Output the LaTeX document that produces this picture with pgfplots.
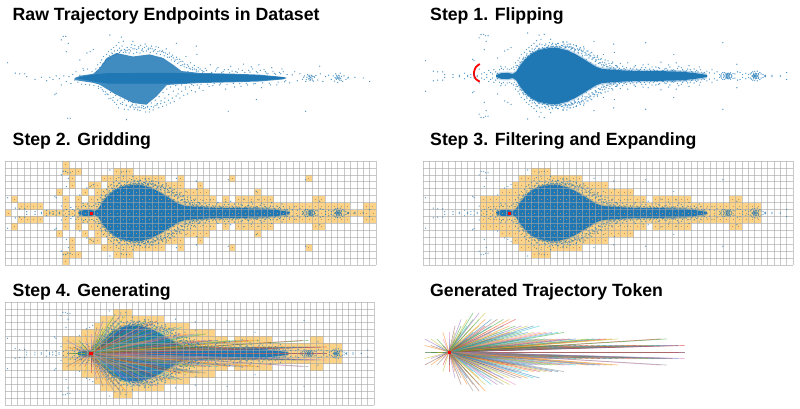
\documentclass[border=0pt]{standalone}
\usepackage{fontspec}
\setmainfont{Liberation Sans}
\usepackage{pgfplots}
\usepackage{pgfplotstable}
\pgfplotsset{compat=1.18}

\definecolor{tabblue}{RGB}{31,119,180}
\definecolor{cellfill}{RGB}{253,212,135}
\definecolor{celldot}{RGB}{196,146,96}
\definecolor{gridgray}{RGB}{165,165,165}

% x is the grid column (ego cell is column 13, centre 13.5), y the grid row
\pgfplotsset{
  colormap={tab}{rgb255=(31,119,180) rgb255=(255,127,14) rgb255=(44,160,44)
    rgb255=(214,39,40) rgb255=(148,103,189) rgb255=(140,86,75)
    rgb255=(227,119,194) rgb255=(127,127,127) rgb255=(188,189,34) rgb255=(23,190,207)},
  panel/.style={scale only axis, anchor=south west, width=371pt, height=104pt,
    xmin=0, xmax=58, ymin=-7.5, ymax=7.5, clip=false,
    unbounded coords=jump, colormap name=tab, colormap access=piecewise constant,
    point meta min=0, point meta max=10},
  bare/.style={panel, hide axis},
  griddy/.style={panel, axis on top, xtick={0,...,58}, ytick={-7.5,-6.5,...,7.5},
    xticklabels={}, yticklabels={}, major tick length=0pt, axis line style={draw=none},
    grid=major, major grid style={draw=gridgray, line width=0.6pt, opacity=0.6}},
}

% signed endpoints
\pgfplotstableread[row sep=\\]{x y\\
0.4 2.2\\ 1.6 0.7\\ 2.3 0.6\\ 3.1 0.6\\ 3.4 0.2\\ 4.7 -0.2\\ 5.7 0.1\\ 6.5 -0.4\\ 7.8 -2.4\\ 9.1 6\\ 9.5 6\\ 8.8 5.5\\
9.8 -5.8\\ 10.2 -5.8\\ 19 -6\\ 16.4 6.2\\ 18.2 5.9\\ 20 5.3\\ 26.8 5\\ 29.9 4.6\\ 34.9 -4.8\\ 47 -4.8\\ 39.3 -3.1\\ 49.2 1.7\\
57 -0.5\\ 56 0\\ 54.7 0.1\\ 53.6 0\\ 9.6 3.8\\ 9.9 5\\ 8.8 -1\\ 8 -2.2\\ 11.7 2.6\\ 13.3 3.8\\ 13.8 4.1\\ 12.2 1.4\\ 12.8 3.6\\
14.2 1.3\\ 14.5 1.9\\ 14.9 2.2\\ 15.1 2.6\\ 15.4 3.1\\ 15.7 2.5\\ 15.9 3.4\\ 16.2 3.8\\ 16.3 3.2\\ 16.6 4.1\\ 16.8 3.5\\ 17 4.4\\
17.1 3.9\\ 17.4 4.7\\ 17.6 4\\ 17.8 5.1\\ 17.9 4.3\\ 18.1 3.9\\ 18.3 4.6\\ 18.5 5.3\\ 18.7 4.1\\ 18.9 3.7\\ 19.1 4.4\\ 19.4 3.6\\
19.6 3.9\\ 19.8 4.8\\ 20.1 3.5\\ 20.3 4.2\\ 20.6 3.7\\ 20.9 4.5\\ 21.1 3.6\\ 21.4 4\\ 21.6 3.8\\ 21.9 4.9\\ 22.1 3.9\\ 22.4 4.3\\
22.7 3.7\\ 22.9 4.6\\ 23.2 3.8\\ 23.5 4.1\\ 23.7 3.5\\ 24 4.4\\ 24.3 3.4\\ 24.6 3.9\\ 24.9 3.2\\ 25.2 4.2\\ 25.4 3\\ 25.7 3.6\\
26 2.6\\ 26.2 3.3\\ 26.5 2.4\\ 26.8 3\\ 27 2.1\\ 27.3 2.7\\ 27.5 1.8\\ 27.8 2.4\\ 28 1.6\\ 28.3 3.1\\ 28.5 1.9\\ 28.8 1.4\\
29 2.2\\ 29.3 1.2\\ 29.6 1.8\\ 30 3.4\\ 30.2 1.5\\
14.6 -1.2\\ 15.2 -1.7\\ 15.7 -2\\ 16.1 -2.4\\ 16.5 -2.1\\ 16.9 -2.8\\ 17.3 -2.5\\ 17.6 -3.2\\ 18 -2.9\\ 18.4 -3.5\\ 18.7 -3.2\\
19 -3.9\\ 19.3 -3.4\\ 19.6 -4.2\\ 19.9 -3.8\\ 20.2 -4.5\\ 20.5 -3.9\\ 20.8 -4.2\\ 21.1 -4.7\\ 21.4 -4\\ 21.7 -4.4\\ 22 -4.9\\
22.3 -4.1\\ 22.6 -4.5\\ 22.9 -3.6\\ 23.2 -4.2\\ 23.5 -3.2\\ 23.8 -3.7\\ 24.1 -2.7\\ 24.4 -3.3\\ 24.7 -2.1\\ 25 -2.9\\ 25.3 -1.6\\
25.6 -2.4\\ 25.9 -1.3\\ 26.3 -1.9\\ 26.7 -1.1\\ 27.1 -1.6\\ 27.6 -1\\ 28.2 -1.3\\
28.6 0.9\\ 29.2 -0.95\\ 29.9 1\\ 30.4 -1.3\\ 30.9 0.85\\ 31.3 1.4\\ 31.7 -0.9\\ 32.1 1.9\\ 32.5 -1.1\\ 32.9 1\\ 33.3 1.5\\ 33.7 -0.85\\
34.1 0.95\\ 34.5 -1.6\\ 34.9 1.2\\ 35.3 1.7\\ 35.7 -0.8\\ 36.1 0.9\\ 36.5 1.3\\ 36.9 -1.2\\ 37.3 2\\ 37.7 -0.75\\ 38.1 1.1\\ 38.5 1.6\\
38.9 -0.85\\ 39.3 0.9\\ 39.7 1.9\\ 40.1 -1.4\\ 40.5 1.2\\ 40.9 0.7\\ 41.3 -0.75\\ 41.7 1.5\\ 42.1 0.65\\ 42.5 -1\\ 42.9 0.8\\ 43.3 1.3\\
43.7 -0.55\\ 44.1 0.5\\ 44.5 -0.7\\ 44.9 0.45\\ 45.3 0.9\\ 45.7 -0.4\\ 46.1 0.6\\
46.5 -0.2\\ 46.8 0.3\\ 47 -0.5\\ 47.2 0.1\\ 47.3 0.5\\ 47.5 -0.15\\ 47.6 0.2\\ 47.7 -0.35\\ 47.8 0.05\\ 47.9 0.4\\ 48 -0.1\\ 48.1 0.25\\
48.2 -0.45\\ 48.4 0.1\\ 48.6 0.35\\ 48.9 -0.3\\ 49.3 0.6\\ 49.7 -0.5\\ 50.1 0.2\\ 50.6 0.4\\ 51 -0.2\\
51.3 0.3\\ 51.5 -0.45\\ 51.6 0.05\\ 51.7 0.6\\ 51.8 -0.2\\ 51.9 0.2\\ 52 -0.65\\ 52.05 -0.05\\ 52.1 0.4\\ 52.2 0.1\\ 52.3 -0.3\\
52.4 0.7\\ 52.5 -0.1\\ 52.6 0.25\\ 52.8 -0.5\\ 53 0.3\\ 53.3 -0.2\\ 53.7 0.1\\
9.2 0.3\\ 9.6 -0.5\\ 10 0.2\\ 10.3 -0.8\\ 10.6 0.5\\ 10.9 -0.3\\ 11.1 0.9\\ 11.4 -0.6\\ 11.7 0.4\\ 12 -0.9\\ 12.3 1.1\\ 12.6 -0.95\\
12.9 1.3\\ 13.2 -1\\ 13.6 0.9\\ 13.9 -1.1\\ 7 0.1\\ 7.5 -0.2\\ 8 0.3\\ 8.5 -0.1\\
14.3 0.9\\ 14.6 -1.5\\ 14.8 1.5\\ 15 -1.4\\ 15.2 2\\ 15.35 -1.9\\ 15.5 2.1\\ 15.65 -2.4\\ 15.8 2.7\\ 15.95 -2.3\\ 16.1 2.7\\ 16.25 -3\\
16.4 2.8\\ 16.55 -2.9\\ 16.7 3.6\\ 16.85 -3.2\\ 17 3.2\\ 17.15 -3.5\\ 17.3 3.4\\ 17.45 -3.8\\ 17.6 3.5\\ 17.75 -4.3\\ 17.9 3.7\\ 18.05 -3.7\\
18.2 4\\ 18.35 -3.8\\ 18.5 3.7\\ 18.65 -4.5\\ 18.8 3.9\\ 18.95 -4\\ 19.1 4\\ 19.25 -4.6\\ 19.4 4.1\\ 19.55 -4.1\\ 19.7 4.4\\ 19.85 -4\\
20 4.2\\ 20.15 -4.2\\ 20.3 4.7\\ 20.45 -4.3\\ 20.6 4.1\\ 20.75 -4.6\\ 20.9 4.3\\ 21.05 -4.2\\ 21.2 4.7\\ 21.35 -4.3\\ 21.5 4.2\\ 21.65 -4.1\\
21.8 4.4\\ 21.95 -4.3\\ 22.1 4.6\\ 22.25 -4.2\\ 22.4 4.1\\ 22.55 -4.9\\ 22.7 4.3\\ 22.85 -4.1\\ 23 4.2\\ 23.15 -4.6\\ 23.3 4\\ 23.45 -4\\
23.6 4.5\\ 23.75 -3.9\\ 23.9 3.8\\ 24.05 -4.3\\ 24.2 3.9\\ 24.35 -3.7\\ 24.5 3.8\\ 24.65 -4.1\\ 24.8 3.7\\ 24.95 -3.5\\ 25.1 3.6\\ 25.25 -3.9\\
25.4 3.4\\ 25.55 -3.2\\ 25.7 3\\ 25.85 -3.6\\ 26 3.1\\ 26.15 -2.9\\ 26.3 2.9\\ 26.45 -3.4\\ 26.6 2.6\\ 26.75 -2.6\\ 26.9 2.7\\ 27.05 -2.3\\
27.2 2.3\\ 27.35 -2.9\\ 27.5 2.4\\ 27.65 -1.9\\ 27.8 1.9\\ 27.95 -2.5\\ 28.1 2\\ 28.25 -1.6\\ 28.4 1.5\\ 28.55 -2.3\\ 28.7 1.7\\ 28.85 -1.3\\
29 1.3\\ 29.15 -1.8\\ 29.3 1.5\\ 29.45 -1.1\\ 29.6 1.3\\ 29.75 -2\\ 29.9 1.2\\ 30.05 -1\\ 30.2 1\\ 30.35 -1.5\\ 30.5 1.3\\ 30.65 -0.9\\
30.8 1.1\\ 30.95 -1.8\\ 31.1 0.9\\ 31.5 1.1\\ 31.9 -1.2\\ 32.3 0.8\\ 32.7 -0.8\\ 33.1 1.3\\ 33.5 -1\\ 33.9 0.8\\ 34.3 1.2\\ 34.7 -0.9\\
35.1 0.75\\ 35.5 1\\ 35.9 -1.3\\ 36.3 0.8\\ 36.7 -0.8\\ 37.1 1.1\\ 37.5 0.8\\ 37.9 -1\\ 38.3 0.85\\ 38.7 1.3\\ 39.1 -0.8\\ 39.5 0.75\\
39.9 1.1\\ 40.3 -0.7\\ 40.7 0.9\\ 41.1 0.6\\ 41.5 -1\\ 41.9 0.9\\ 42.3 0.55\\ 42.7 -0.6\\ 43.1 0.6\\ 43.5 0.9\\ 43.9 -0.4\\
46.7 0.1\\ 47.1 -0.25\\ 47.4 0.3\\ 47.55 -0.05\\ 47.65 0.4\\ 47.75 -0.2\\ 47.85 0.15\\ 48.05 -0.3\\ 48.3 0.2\\
52.15 -0.15\\ 51.95 0.05\\ 52.25 0.3\\ 52.35 0\\ 51.75 -0.05\\ 51.85 0.4\\ 52.55 -0.35\\
}\endpoints

% solid part of the raw cloud
\pgfplotstableread[row sep=\\]{x y\\
10.9 0\\ 11.9 0.35\\ 13.8 0.6\\ 14.8 1.44\\ 15.9 2.88\\ 17.45 3.6\\ 20 3.1\\ 22.6 3.4\\ 24.7 2.9\\ 26.3 1.9\\ 27.6 1\\
30.5 0.72\\ 35.7 0.62\\ 39.8 0.48\\ 43.5 0.14\\ 44 0\\ 43.5 -0.2\\ 39.8 -0.5\\ 35.7 -0.62\\ 30.5 -0.72\\ 25.3 -1\\ 23.7 -2.64\\
22.1 -3.85\\ 20 -3.6\\ 18.5 -2.9\\ 17 -2.2\\ 14.8 -0.96\\ 13.8 -0.7\\ 10.9 -0.3\\
}\rawcloud
\pgfplotstableread[row sep=\\]{x y\\
11 0\\ 13.8 0.5\\ 16 0.7\\ 26 0.75\\ 30.5 0.62\\ 35.7 0.52\\ 39.8 0.38\\ 43.5 0.1\\ 44 0\\ 43.5 -0.1\\ 39.8 -0.38\\ 35.7 -0.52\\
30.5 -0.62\\ 26 -0.8\\ 16 -0.8\\ 13.8 -0.5\\ 11 0\\
}\rawcore

% upper half of the flipped cloud
\pgfplotstableread[row sep=\\]{x y\\
11.46 -0.1\\ 11.46 0.14\\ 12.24 0.4\\ 13.28 0.45\\ 14.06 0.3\\ 14.6 0.6\\ 15.2 1.5\\ 16 2.4\\ 17 3.2\\ 18.2 3.75\\ 19.6 4\\ 21 4.05\\
22.4 3.75\\ 23.8 3.2\\ 25.1 2.5\\ 26.2 1.85\\ 27.2 1.3\\ 28 1.05\\ 29 0.95\\ 30.5 0.85\\ 32.55 0.75\\ 35.68 0.7\\ 38.8 0.68\\ 40.89 0.6\\
42.97 0.38\\ 44.53 0.15\\ 44.53 -0.1\\
}\flipcloud

% grid cells kept, row by row, upper half; nan breaks the run
\pgfplotstableread[row sep=\\]{x y\\
0 0\\ 1 0\\ nan 0\\ 6 0\\ 58 0\\ nan 0\\
2 1\\ 6 1\\ nan 1\\ 9 1\\ 10 1\\ nan 1\\ 11 1\\ 54 1\\ nan 1\\ 56 1\\ 58 1\\ nan 1\\
1 2\\ 2 2\\ nan 2\\ 9 2\\ 10 2\\ nan 2\\ 11 2\\ 12 2\\ nan 2\\ 13 2\\ 33 2\\ nan 2\\ 34 2\\ 35 2\\ nan 2\\ 36 2\\ 42 2\\ nan 2\\ 48 2\\ 50 2\\ nan 2\\
8 3\\ 9 3\\ nan 3\\ 12 3\\ 13 3\\ nan 3\\ 14 3\\ 32 3\\ nan 3\\ 39 3\\ 40 3\\ nan 3\\
10 4\\ 11 4\\ nan 4\\ 13 4\\ 15 4\\ nan 4\\ 16 4\\ 28 4\\ nan 4\\ 30 4\\ 31 4\\ nan 4\\
10 5\\ 11 5\\ nan 5\\ 15 5\\ 25 5\\ nan 5\\ 27 5\\ 28 5\\ nan 5\\ 35 5\\ 36 5\\ nan 5\\ 47 5\\ 48 5\\ nan 5\\
9 6\\ 12 6\\ nan 6\\ 17 6\\ 20 6\\ nan 6\\
9 7\\ 10 7\\
}\griddedcells

\pgfplotstableread[row sep=\\]{x y\\
9 0\\ 53 0\\ nan 0\\
9 1\\ 53 1\\ nan 1\\
9 2\\ 35 2\\ nan 2\\ 36 2\\ 42 2\\ nan 2\\ 48 2\\ 50 2\\ nan 2\\
12 3\\ 33 3\\ nan 3\\
14 4\\ 29 4\\ nan 4\\
15 5\\ 25 5\\ nan 5\\
17 6\\ 20 6\\
}\filteredcells

% generated token endpoints, upper half: column centre, row, colour
\pgfplotstableread[row sep=\\]{ex ey c\\
9.5 0 2\\ 10.5 0 7\\ 11.5 0 1\\ 12.5 0 9\\ 14.5 0 4\\ 15.5 0 0\\ 16.5 0 6\\ 17.5 0 3\\ 18.5 0 8\\ 19.5 0 5\\ 20.5 0 1\\ 21.5 0 7\\
22.5 0 2\\ 23.5 0 9\\ 24.5 0 0\\ 25.5 0 4\\ 26.5 0 6\\ 27.5 0 3\\ 28.5 0 8\\ 29.5 0 5\\ 30.5 0 2\\ 31.5 0 0\\ 32.5 0 7\\ 33.5 0 1\\
34.5 0 3\\ 35.5 0 9\\ 36.5 0 4\\ 37.5 0 6\\ 38.5 0 2\\ 39.5 0 8\\ 40.5 0 5\\ 41.5 0 0\\ 42.5 0 3\\ 43.5 0 7\\ 44.5 0 1\\ 45.5 0 9\\
46.5 0 2\\ 47.5 0 4\\ 48.5 0 6\\ 49.5 0 0\\ 50.5 0 8\\ 51.5 0 3\\ 52.5 0 4\\
9.5 1 1\\ 10.5 1 5\\ 11.5 1 9\\ 12.5 1 3\\ 13.5 1 7\\ 14.5 1 2\\ 15.5 1 6\\ 16.5 1 0\\ 17.5 1 8\\ 18.5 1 4\\ 19.5 1 1\\ 20.5 1 3\\
21.5 1 9\\ 22.5 1 5\\ 23.5 1 2\\ 24.5 1 7\\ 25.5 1 0\\ 26.5 1 6\\ 27.5 1 3\\ 28.5 1 1\\ 29.5 1 8\\ 30.5 1 4\\ 31.5 1 9\\ 32.5 1 2\\
33.5 1 5\\ 34.5 1 0\\ 35.5 1 7\\ 36.5 1 3\\ 37.5 1 1\\ 38.5 1 6\\ 39.5 1 2\\ 40.5 1 9\\ 41.5 1 4\\ 42.5 1 0\\ 43.5 1 8\\ 44.5 1 3\\
45.5 1 5\\ 46.5 1 1\\ 47.5 1 7\\ 48.5 1 2\\ 49.5 1 9\\ 50.5 1 6\\ 51.5 1 0\\ 52.5 1 3\\
9.5 2 4\\ 10.5 2 8\\ 11.5 2 2\\ 12.5 2 6\\ 13.5 2 9\\ 14.5 2 1\\ 15.5 2 3\\ 16.5 2 7\\ 17.5 2 0\\ 18.5 2 5\\ 19.5 2 9\\ 20.5 2 2\\
21.5 2 4\\ 22.5 2 1\\ 23.5 2 8\\ 24.5 2 6\\ 25.5 2 3\\ 26.5 2 0\\ 27.5 2 9\\ 28.5 2 5\\ 29.5 2 2\\ 30.5 2 7\\ 31.5 2 1\\ 32.5 2 4\\
33.5 2 3\\ 34.5 2 0\\ 36.5 2 8\\ 37.5 2 2\\ 38.5 2 9\\ 39.5 2 3\\ 40.5 2 1\\ 41.5 2 8\\ 48.5 2 3\\ 49.5 2 2\\
12.5 3 1\\ 13.5 3 6\\ 14.5 3 8\\ 15.5 3 3\\ 16.5 3 9\\ 17.5 3 0\\ 18.5 3 2\\ 19.5 3 7\\ 20.5 3 4\\ 21.5 3 1\\ 22.5 3 9\\ 23.5 3 3\\
24.5 3 5\\ 25.5 3 2\\ 26.5 3 0\\ 27.5 3 8\\ 28.5 3 6\\ 29.5 3 1\\ 30.5 3 4\\ 31.5 3 9\\ 32.5 3 2\\
14.5 4 5\\ 15.5 4 2\\ 16.5 4 9\\ 17.5 4 1\\ 18.5 4 8\\ 19.5 4 3\\ 20.5 4 0\\ 21.5 4 6\\ 22.5 4 9\\ 23.5 4 1\\ 24.5 4 2\\ 25.5 4 4\\
26.5 4 8\\ 27.5 4 0\\ 28.5 4 9\\
15.5 5 4\\ 16.5 5 8\\ 17.5 5 2\\ 18.5 5 9\\ 19.5 5 1\\ 20.5 5 0\\ 21.5 5 5\\ 22.5 5 2\\ 23.5 5 1\\ 24.5 5 3\\
17.5 6 2\\ 18.5 6 4\\ 19.5 6 8\\
}\token

\newcommand{\keptcells}[1]{
  \addplot[cellfill, line width=6.9pt, forget plot] table {#1};
  \addplot[cellfill, line width=6.9pt, forget plot] table[y expr=-\thisrow{y}] {#1};
}
\newcommand{\celldots}[1]{
  \addplot[celldot, line width=0.9pt, dash pattern=on 0.9pt off 5.5pt, dash phase=3.65pt, forget plot] table {#1};
  \addplot[celldot, line width=0.9pt, dash pattern=on 0.9pt off 5.5pt, dash phase=3.65pt, forget plot] table[y expr=-\thisrow{y}] {#1};
}
\newcommand{\flippedcloud}[1]{
  \addplot[tabblue, only marks, mark=*, mark size=0.42pt, mark options={draw=none, fill=tabblue}, opacity=#1, forget plot] table {\endpoints};
  \addplot[tabblue, only marks, mark=*, mark size=0.42pt, mark options={draw=none, fill=tabblue}, opacity=#1, forget plot] table[y expr=-\thisrow{y}] {\endpoints};
  \addplot[draw=none, fill=tabblue, fill opacity=0.3, forget plot] table[y expr=\thisrow{y}+0.2] {\flipcloud} -- cycle;
  \addplot[draw=none, fill=tabblue, fill opacity=0.3, forget plot] table[y expr=-\thisrow{y}-0.2] {\flipcloud} -- cycle;
  \addplot[draw=none, fill=tabblue, forget plot] table {\flipcloud} -- cycle;
  \addplot[draw=none, fill=tabblue, forget plot] table[y expr=-\thisrow{y}] {\flipcloud} -- cycle;
}
\newcommand{\tokenfan}{
  \addplot[-, forget plot, point meta=\thisrow{c},
    quiver={u=0.95*(\thisrow{ex}-13.5), v=0.95*\thisrow{ey}, colored=mapped color,
      every arrow/.append style={line width=0.7pt, opacity=0.5}}]
    table[x expr=13.5, y expr=0] {\token};
  \addplot[-, forget plot, point meta=9-\thisrow{c},
    quiver={u=0.95*(\thisrow{ex}-13.5), v=-0.95*\thisrow{ey}, colored=mapped color,
      every arrow/.append style={line width=0.7pt, opacity=0.5}}]
    table[x expr=13.5, y expr=0] {\token};
}
\newcommand{\egomark}{
  \addplot[only marks, mark=square*, mark size=1.2pt, red, forget plot] coordinates {(13.5,0)};
}
\newcommand{\paneltitle}[3]{
  \node[anchor=base west, inner sep=0pt, font=\fontsize{17.7}{18}\selectfont\bfseries] at (#1pt,#2pt) {#3};
}

\begin{document}
\begin{tikzpicture}[x=1pt,y=1pt]
\useasboundingbox (0,0) rectangle (800,409);

\paneltitle{12.5}{388.5}{Raw Trajectory Endpoints in Dataset}
\paneltitle{430}{388.5}{Step 1. Flipping}
\paneltitle{12.5}{263}{Step 2. Gridding}
\paneltitle{430}{263}{Step 3. Filtering and Expanding}
\paneltitle{12.5}{112.5}{Step 4. Generating}
\paneltitle{430}{112.5}{Generated Trajectory Token}

% raw
\begin{axis}[bare, at={(5pt,279pt)}]
  \addplot[tabblue, only marks, mark=*, mark size=0.42pt, mark options={draw=none, fill=tabblue}, opacity=0.6] table {\endpoints};
  \addplot[draw=none, fill=tabblue, fill opacity=0.85] table {\rawcloud} -- cycle;
  \addplot[draw=none, fill=tabblue] table {\rawcore} -- cycle;
\end{axis}

% step 1
\begin{axis}[bare, at={(423pt,281pt)}, width=370pt]
  \flippedcloud{0.6}
  \addplot[red, line width=1.8pt, smooth] coordinates {(8.9,1.73) (8.3,1.3) (8,0.6) (8,0.1) (8.3,-0.45) (8.9,-0.82)};
\end{axis}

% step 2
\begin{axis}[griddy, at={(5pt,144pt)}]
  \keptcells{\griddedcells}
  \flippedcloud{0.6}
  \celldots{\griddedcells}
  \egomark
\end{axis}

% step 3
\begin{axis}[griddy, at={(423pt,144pt)}, width=370pt]
  \keptcells{\filteredcells}
  \flippedcloud{0.5}
  \celldots{\filteredcells}
  \egomark
\end{axis}

% step 4
\begin{axis}[griddy, at={(5pt,4pt)}, width=369pt, height=103pt]
  \keptcells{\filteredcells}
  \flippedcloud{0.5}
  \tokenfan
  \egomark
\end{axis}

% token
\begin{axis}[bare, at={(363.1pt,5.5pt)}, width=369pt, height=103pt]
  \tokenfan
  \egomark
\end{axis}
\end{tikzpicture}
\end{document}
